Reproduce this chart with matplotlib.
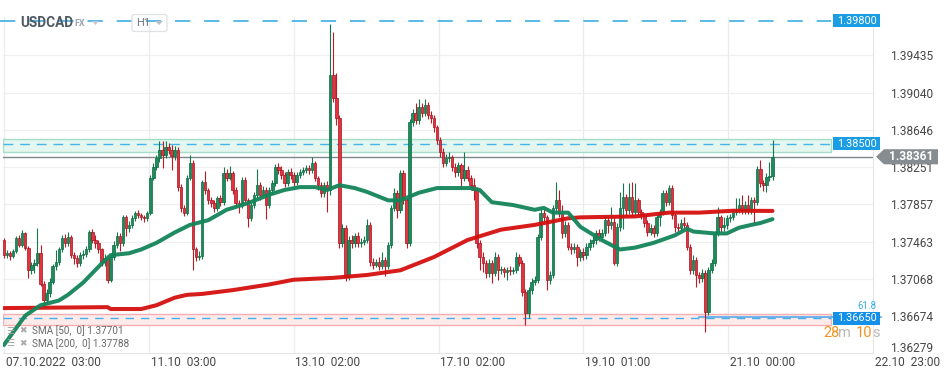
import matplotlib
matplotlib.use('Agg')
import matplotlib.pyplot as plt
import matplotlib.transforms as mtransforms
from matplotlib.patches import Rectangle, Polygon, FancyBboxPatch
import numpy as np

plt.rcParams['font.family'] = ['Roboto', 'DejaVu Sans']
plt.rcParams['lines.scale_dashes'] = False

# ---------------- data ----------------
symbol = "USDCAD"
market = "FX"
timeframe = "H1"

first_open = 1.3748
close = [
    1.3732, 1.3734, 1.3731, 1.3736, 1.3750, 1.3743, 1.3755, 1.3740, 1.3716, 1.3722,
    1.3724, 1.3734, 1.3702, 1.3685, 1.3692, 1.3704, 1.3720, 1.3725, 1.3738, 1.3750,
    1.3745, 1.3751, 1.3732, 1.3729, 1.3724, 1.3732, 1.3733, 1.3738, 1.3757, 1.3748,
    1.3745, 1.3738, 1.3725, 1.3729, 1.3706, 1.3730, 1.3743, 1.3752, 1.3745, 1.3772,
    1.3761, 1.3764, 1.3771, 1.3777, 1.3774, 1.3772, 1.3771, 1.3777, 1.3814, 1.3825,
    1.3835, 1.3843, 1.3838, 1.3846, 1.3843, 1.3837, 1.3843, 1.3804, 1.3782, 1.3777,
    1.3814, 1.3830, 1.3738, 1.3730, 1.3731, 1.3809, 1.3801, 1.3790, 1.3787, 1.3782,
    1.3792, 1.3788, 1.3819, 1.3814, 1.3819, 1.3801, 1.3787, 1.3785, 1.3812, 1.3790,
    1.3771, 1.3785, 1.3796, 1.3806, 1.3796, 1.3801, 1.3785, 1.3801, 1.3808, 1.3825,
    1.3822, 1.3817, 1.3808, 1.3820, 1.3817, 1.3809, 1.3817, 1.3820, 1.3822, 1.3824,
    1.3822, 1.3829, 1.3814, 1.3806, 1.3798, 1.3806, 1.3801, 1.3923, 1.3898, 1.3877,
    1.3745, 1.3761, 1.3709, 1.3748, 1.3745, 1.3752, 1.3745, 1.3746, 1.3748, 1.3764,
    1.3725, 1.3722, 1.3725, 1.3720, 1.3727, 1.3720, 1.3743, 1.3782, 1.3798, 1.3780,
    1.3819, 1.3790, 1.3745, 1.3873, 1.3882, 1.3875, 1.3889, 1.3882, 1.3891, 1.3880,
    1.3877, 1.3868, 1.3854, 1.3841, 1.3830, 1.3835, 1.3836, 1.3825, 1.3820, 1.3827,
    1.3814, 1.3822, 1.3814, 1.3806, 1.3801, 1.3745, 1.3730, 1.3724, 1.3713, 1.3724,
    1.3713, 1.3730, 1.3716, 1.3717, 1.3714, 1.3716, 1.3715, 1.3716, 1.3730, 1.3724,
    1.3693, 1.3671, 1.3695, 1.3704, 1.3706, 1.3751, 1.3777, 1.3772, 1.3706, 1.3711,
    1.3782, 1.3790, 1.3777, 1.3755, 1.3764, 1.3741, 1.3738, 1.3741, 1.3730, 1.3735,
    1.3732, 1.3741, 1.3745, 1.3748, 1.3755, 1.3751, 1.3755, 1.3769, 1.3764, 1.3767,
    1.3724, 1.3762, 1.3782, 1.3794, 1.3780, 1.3794, 1.3778, 1.3790, 1.3778, 1.3774,
    1.3766, 1.3757, 1.3761, 1.3755, 1.3772, 1.3777, 1.3798, 1.3788, 1.3803, 1.3774,
    1.3762, 1.3761, 1.3766, 1.3764, 1.3741, 1.3716, 1.3727, 1.3711, 1.3708, 1.3713,
    1.3672, 1.3716, 1.3724, 1.3755, 1.3772, 1.3762, 1.3764, 1.3771, 1.3772, 1.3778,
    1.3780, 1.3785, 1.3780, 1.3785, 1.3780, 1.3790, 1.3788, 1.3823, 1.3808, 1.3806,
    1.3815, 1.3816, 1.38361,
]
high = [
    1.3750, 1.3737, 1.3736, 1.3738, 1.3752, 1.3753, 1.3759, 1.3757, 1.3742, 1.3725,
    1.3728, 1.3761, 1.3743, 1.3705, 1.3696, 1.3708, 1.3723, 1.3737, 1.3741, 1.3753,
    1.3754, 1.3756, 1.3753, 1.3735, 1.3732, 1.3735, 1.3737, 1.3742, 1.3759, 1.3760,
    1.3753, 1.3748, 1.3740, 1.3733, 1.3731, 1.3733, 1.3747, 1.3757, 1.3755, 1.3775,
    1.3774, 1.3768, 1.3774, 1.3779, 1.3780, 1.3777, 1.3775, 1.3779, 1.3817, 1.3829,
    1.3838, 1.3853, 1.3853, 1.3853, 1.3851, 1.3849, 1.3848, 1.3846, 1.3807, 1.3785,
    1.3817, 1.3838, 1.3833, 1.3741, 1.3736, 1.3812, 1.3821, 1.3803, 1.3794, 1.3790,
    1.3795, 1.3796, 1.3825, 1.3823, 1.3826, 1.3821, 1.3804, 1.3790, 1.3815, 1.3815,
    1.3793, 1.3788, 1.3799, 1.3823, 1.3809, 1.3805, 1.3804, 1.3804, 1.3811, 1.3828,
    1.3829, 1.3826, 1.3820, 1.3823, 1.3824, 1.3820, 1.3820, 1.3823, 1.3825, 1.3827,
    1.3827, 1.3836, 1.3832, 1.3816, 1.3809, 1.3809, 1.3810, 1.3977, 1.3968, 1.3925,
    1.3880, 1.3765, 1.3764, 1.3752, 1.3753, 1.3755, 1.3756, 1.3750, 1.3752, 1.3770,
    1.3767, 1.3729, 1.3728, 1.3730, 1.3735, 1.3730, 1.3746, 1.3785, 1.3803, 1.3801,
    1.3822, 1.3822, 1.3793, 1.3876, 1.3887, 1.3893, 1.3897, 1.3893, 1.3897, 1.3894,
    1.3885, 1.3880, 1.3870, 1.3857, 1.3845, 1.3839, 1.3841, 1.3838, 1.3829, 1.3831,
    1.3830, 1.3841, 1.3826, 1.3817, 1.3814, 1.3804, 1.3748, 1.3735, 1.3727, 1.3728,
    1.3727, 1.3735, 1.3733, 1.3720, 1.3719, 1.3719, 1.3720, 1.3719, 1.3735, 1.3733,
    1.3727, 1.3696, 1.3698, 1.3708, 1.3710, 1.3754, 1.3782, 1.3781, 1.3775, 1.3715,
    1.3785, 1.3809, 1.3801, 1.3785, 1.3768, 1.3767, 1.3745, 1.3745, 1.3744, 1.3739,
    1.3740, 1.3745, 1.3749, 1.3752, 1.3759, 1.3760, 1.3760, 1.3773, 1.3773, 1.3783,
    1.3772, 1.3766, 1.3799, 1.3808, 1.3797, 1.3808, 1.3809, 1.3808, 1.3793, 1.3781,
    1.3777, 1.3769, 1.3765, 1.3764, 1.3775, 1.3781, 1.3801, 1.3801, 1.3806, 1.3806,
    1.3777, 1.3766, 1.3770, 1.3772, 1.3767, 1.3744, 1.3732, 1.3730, 1.3714, 1.3717,
    1.3716, 1.3719, 1.3728, 1.3758, 1.3783, 1.3775, 1.3772, 1.3774, 1.3776, 1.3781,
    1.3792, 1.3793, 1.3796, 1.3789, 1.3796, 1.3794, 1.3794, 1.3826, 1.3833, 1.3812,
    1.3819, 1.3831, 1.3854,
]
low = [
    1.3729, 1.3729, 1.3727, 1.3729, 1.3734, 1.3741, 1.3741, 1.3737, 1.3708, 1.3712,
    1.3713, 1.3721, 1.3699, 1.3677, 1.3680, 1.3688, 1.3701, 1.3716, 1.3722, 1.3735,
    1.3741, 1.3742, 1.3729, 1.3723, 1.3719, 1.3721, 1.3728, 1.3730, 1.3735, 1.3745,
    1.3740, 1.3734, 1.3720, 1.3721, 1.3703, 1.3704, 1.3727, 1.3740, 1.3736, 1.3742,
    1.3752, 1.3757, 1.3761, 1.3768, 1.3771, 1.3769, 1.3767, 1.3768, 1.3775, 1.3811,
    1.3822, 1.3831, 1.3824, 1.3835, 1.3839, 1.3822, 1.3833, 1.3800, 1.3778, 1.3773,
    1.3774, 1.3811, 1.3716, 1.3726, 1.3727, 1.3728, 1.3797, 1.3786, 1.3783, 1.3778,
    1.3779, 1.3784, 1.3785, 1.3810, 1.3811, 1.3797, 1.3783, 1.3777, 1.3782, 1.3786,
    1.3762, 1.3768, 1.3782, 1.3793, 1.3790, 1.3792, 1.3770, 1.3782, 1.3797, 1.3805,
    1.3818, 1.3813, 1.3804, 1.3805, 1.3813, 1.3805, 1.3806, 1.3814, 1.3817, 1.3819,
    1.3818, 1.3819, 1.3810, 1.3801, 1.3794, 1.3794, 1.3778, 1.3796, 1.3894, 1.3870,
    1.3740, 1.3741, 1.3705, 1.3706, 1.3740, 1.3741, 1.3741, 1.3741, 1.3743, 1.3745,
    1.3721, 1.3717, 1.3719, 1.3716, 1.3717, 1.3710, 1.3717, 1.3740, 1.3779, 1.3771,
    1.3777, 1.3786, 1.3740, 1.3742, 1.3869, 1.3871, 1.3871, 1.3878, 1.3879, 1.3876,
    1.3872, 1.3862, 1.3850, 1.3836, 1.3825, 1.3826, 1.3831, 1.3821, 1.3815, 1.3816,
    1.3803, 1.3810, 1.3810, 1.3801, 1.3790, 1.3740, 1.3716, 1.3714, 1.3708, 1.3709,
    1.3703, 1.3710, 1.3706, 1.3712, 1.3709, 1.3706, 1.3711, 1.3712, 1.3713, 1.3720,
    1.3689, 1.3658, 1.3666, 1.3691, 1.3700, 1.3703, 1.3748, 1.3767, 1.3695, 1.3701,
    1.3708, 1.3778, 1.3772, 1.3750, 1.3751, 1.3737, 1.3733, 1.3734, 1.3720, 1.3726,
    1.3727, 1.3728, 1.3737, 1.3741, 1.3744, 1.3747, 1.3748, 1.3752, 1.3755, 1.3760,
    1.3722, 1.3721, 1.3758, 1.3760, 1.3775, 1.3776, 1.3773, 1.3775, 1.3774, 1.3770,
    1.3762, 1.3752, 1.3753, 1.3751, 1.3752, 1.3763, 1.3774, 1.3784, 1.3785, 1.3770,
    1.3757, 1.3756, 1.3757, 1.3760, 1.3737, 1.3712, 1.3712, 1.3698, 1.3703, 1.3704,
    1.3651, 1.3669, 1.3713, 1.3721, 1.3752, 1.3757, 1.3758, 1.3760, 1.3767, 1.3769,
    1.3775, 1.3777, 1.3776, 1.3776, 1.3776, 1.3776, 1.3766, 1.3785, 1.3804, 1.3800,
    1.3799, 1.3810, 1.3812,
]

sma50_idx = [0, 7, 12, 18, 21, 26, 32, 35, 41, 45, 50, 56, 61, 67, 73, 80, 87, 92, 97, 102,
             106, 110, 115, 119, 126, 130, 136, 142, 153, 156, 160, 167, 174, 177, 180, 185,
             189, 196, 202, 207, 213, 220, 224, 226, 233, 237, 241, 245, 248, 252]
sma50 = [1.3637, 1.3668, 1.3679, 1.3684, 1.3690, 1.3703, 1.3723, 1.3732, 1.3734, 1.3738,
         1.3745, 1.3756, 1.3764, 1.3769, 1.3780, 1.3787, 1.3796, 1.3801, 1.3804, 1.3804,
         1.3801, 1.3806, 1.3803, 1.3799, 1.3790, 1.3790, 1.3798, 1.3803, 1.3803, 1.3801,
         1.3788, 1.3785, 1.3780, 1.3782, 1.3777, 1.3777, 1.3762, 1.3748, 1.3738, 1.3740,
         1.3745, 1.3753, 1.3760, 1.3757, 1.3755, 1.3755, 1.3761, 1.3764, 1.3766, 1.37701]
sma200_idx = [0, 34, 35, 45, 50, 56, 60, 65, 75, 87, 95, 108, 119, 130, 141, 152, 163, 174,
              185, 189, 207, 218, 228, 239, 252]
sma200 = [1.3676, 1.3677, 1.3675, 1.3675, 1.3679, 1.3687, 1.3690, 1.3691, 1.3695, 1.3701,
          1.3706, 1.3708, 1.3711, 1.3716, 1.3730, 1.3748, 1.3759, 1.3764, 1.3771, 1.3772,
          1.3773, 1.3777, 1.3777, 1.3779, 1.37788]
sma50_last = 1.37701
sma200_last = 1.37788

price_ticks = [1.36279, 1.36674, 1.37068, 1.37463, 1.37857, 1.38251, 1.38646, 1.39040, 1.39435]
time_labels = ["07.10.2022  03:00", "11.10  03:00", "13.10  02:00", "17.10  02:00",
               "19.10  01:00", "21.10  00:00", "22.10  23:00"]
time_pos = [0, 47.5, 95, 142.5, 190, 237.5, 285]

level_top = 1.3980
resistance = 1.3850
resistance_zone = (1.3841, 1.3855)
support = 1.3665
support_zone = (1.3658, 1.3670)
fib_level = 1.36668
fib_label = "61.8"
fib_start = 228
current_price = 1.38361
countdown = [("28", "#f5921e"), ("m", "#b8b8b8"), ("10", "#f5921e"), ("s", "#b8b8b8")]

# ---------------- figure ----------------
W, H = 949, 378
fig = plt.figure(figsize=(W / 100, H / 100), dpi=100)
fig.patch.set_facecolor('white')


def fx(px):
    return px / W


def fy(py):
    return 1 - py / H


ax = fig.add_axes([fx(3), fy(352.5), fx(873) - fx(3), fy(17) - fy(352.5)])
ax.set_xlim(-0.3, 284.95)
ax.set_ylim(1.36290, 1.39840)
ax.set_facecolor('white')

trans_fx = mtransforms.blended_transform_factory(fig.transFigure, ax.transData)
trans_xa = mtransforms.blended_transform_factory(ax.transData, ax.transAxes)

# grid
for p in price_ticks:
    ax.axhline(p, color='#f0f0f0', lw=0.9, zorder=0)
for t in time_pos[:-1]:
    ax.axvline(t, color='#ececec', lw=0.9, zorder=0)

for s in ['top', 'left']:
    ax.spines[s].set_visible(False)
ax.spines['right'].set_color('#e6e6e6')
ax.spines['bottom'].set_color('#e6e6e6')

ax.set_xticks([])
ax.yaxis.tick_right()
ax.set_yticks(price_ticks[1:])
ax.set_yticklabels([f'{p:.5f}' for p in price_ticks[1:]], fontsize=8.6, color='#474747')
ax.tick_params(axis='y', length=0, pad=12)
fig.text(fx(890), fy(348), f'{price_ticks[0]:.5f}', fontsize=8.6, color='#474747',
         ha='left', va='center')

for pos, lab in zip(time_pos, time_labels):
    ax.text(pos + 0.6, -0.03, lab, transform=trans_xa, ha='left', va='center',
            fontsize=8.6, color='#474747', clip_on=False)

# zones
r0, r1 = resistance_zone
ax.add_patch(Rectangle((fx(3), r0), fx(831) - fx(3), r1 - r0, transform=trans_fx,
                       facecolor='#e3f6ef', edgecolor='#a6ddc8', lw=1.0, zorder=1))
s0, s1 = support_zone
ax.add_patch(Rectangle((fx(3), s0), fx(831) - fx(3), s1 - s0, transform=trans_fx,
                       facecolor='#fdeaea', edgecolor='#f4b0b0', lw=1.0, zorder=1))

# level lines
ax.plot([fx(0), fx(831)], [level_top, level_top], transform=trans_fx, color='#2ea6e0',
        lw=1.1, dashes=(11, 10), zorder=2, clip_on=False)
ax.plot([fx(3), fx(831)], [resistance, resistance], transform=trans_fx, color='#45b4ea',
        lw=1.0, dashes=(7, 5), zorder=2)
ax.plot([fx(3), fx(831)], [support, support], transform=trans_fx, color='#45b0ea',
        lw=1.0, dashes=(6, 5), zorder=2)
ax.axhline(current_price, color='#7f868a', lw=1.0, zorder=2)
ax.plot([fib_start, 287.5], [fib_level, fib_level], color='#58a9ea', lw=1.2, zorder=2,
        clip_on=False)

# candles
o = np.array([first_open] + close[:-1])
c = np.array(close)
h = np.array(high)
l = np.array(low)
idx = np.arange(len(c))
up = c >= o
body_col = np.where(up, '#1d8b5b', '#e2333f')
edge_col = np.where(up, '#0c6a42', '#a8121e')
wick_col = np.where(up, '#147a4e', '#c01824')
ax.vlines(idx, l, h, colors=wick_col, lw=0.8, zorder=3)
bottoms = np.minimum(o, c)
heights = np.maximum(np.abs(c - o), 0.00004)
ax.bar(idx, heights, bottom=bottoms, width=0.8, color=body_col, edgecolor=edge_col,
       linewidth=0.5, zorder=4)

# SMAs
ax.plot(sma200_idx, sma200, color='#d4100f', lw=2.9, zorder=5, solid_capstyle='round',
        solid_joinstyle='round', alpha=0.95)
ax.plot(sma50_idx, sma50, color='#14855a', lw=2.9, zorder=5, solid_capstyle='round',
        solid_joinstyle='round', alpha=0.95)

# right side price boxes
bh = 0.00068


def price_box(price, text, fc):
    ax.add_patch(Rectangle((fx(833), price - bh), fx(880) - fx(833), 2 * bh,
                           transform=trans_fx, facecolor=fc, edgecolor='none',
                           zorder=12, clip_on=False))
    ax.text(fx(856.5), price, text, transform=trans_fx, ha='center', va='center',
            color='white', fontsize=7.8, zorder=13, clip_on=False)


ax.text(fx(857), fib_level + 0.0011, fib_label, transform=trans_fx, ha='left',
        va='center', color='#3aaee8', fontsize=7, zorder=11, clip_on=False)
price_box(level_top, f'{level_top:.5f}', '#1a9de2')
price_box(resistance, f'{resistance:.5f}', '#1a9de2')
price_box(support, f'{support:.5f}', '#1590e8')

cb = 0.00080
ax.add_patch(Polygon([(fx(876), current_price), (fx(884), current_price + cb),
                      (fx(938), current_price + cb), (fx(938), current_price - cb),
                      (fx(884), current_price - cb)], closed=True, transform=trans_fx,
                     facecolor='#868c90', edgecolor='none', zorder=12, clip_on=False))
ax.text(fx(911), current_price, f'{current_price:.5f}', transform=trans_fx, ha='center',
        va='center', color='white', fontsize=8.6, fontweight='bold', zorder=13,
        clip_on=False)

# countdown
cx = [823, 838, 856, 872]
for (t, col), px in zip(countdown, cx):
    fig.text(fx(px), fy(333), t, color=col, fontsize=10.5, ha='left', va='center')

# header
fig.text(fx(20), fy(23), symbol, fontsize=9.8, fontweight='bold', color='#4f5962',
         ha='left', va='center')
fig.text(fx(74), fy(24), market, fontsize=6.5, fontweight='bold', color='#9aa6b0',
         ha='left', va='center')
fig.patches.append(Polygon([(fx(92), fy(21)), (fx(99), fy(21)), (fx(95.5), fy(25))],
                           closed=True, transform=fig.transFigure, facecolor='#c3c9ce',
                           edgecolor='none'))
fig.patches.append(FancyBboxPatch((fx(132), fy(31.5)), fx(167) - fx(132), fy(14.5) - fy(31.5),
                                  boxstyle='round,pad=0,rounding_size=0.004',
                                  transform=fig.transFigure, facecolor='none',
                                  edgecolor='#dfe2e5', lw=0.9))
fig.text(fx(136), fy(23.5), timeframe, fontsize=8, color='#6b747c', ha='left', va='center')
fig.patches.append(Polygon([(fx(155), fy(21)), (fx(163), fy(21)), (fx(159), fy(25))],
                           closed=True, transform=fig.transFigure, facecolor='#b9c0c6',
                           edgecolor='none'))

# SMA legend
for yy, period, val in [(331, 50, sma50_last), (344, 200, sma200_last)]:
    fig.text(fx(6), fy(yy), '\u2630', fontsize=6.5, color='#a3a3a3', ha='left', va='center',
             family='DejaVu Sans')
    fig.text(fx(19), fy(yy), '\u2716', fontsize=6.5, color='#a8a8a8', ha='left', va='center',
             family='DejaVu Sans')
    fig.text(fx(32), fy(yy), f'SMA [{period},  0] {val:.5f}', fontsize=7.2,
             color='#6a6a6a', ha='left', va='center')

fig.savefig('out.png', dpi=100, facecolor='white')
